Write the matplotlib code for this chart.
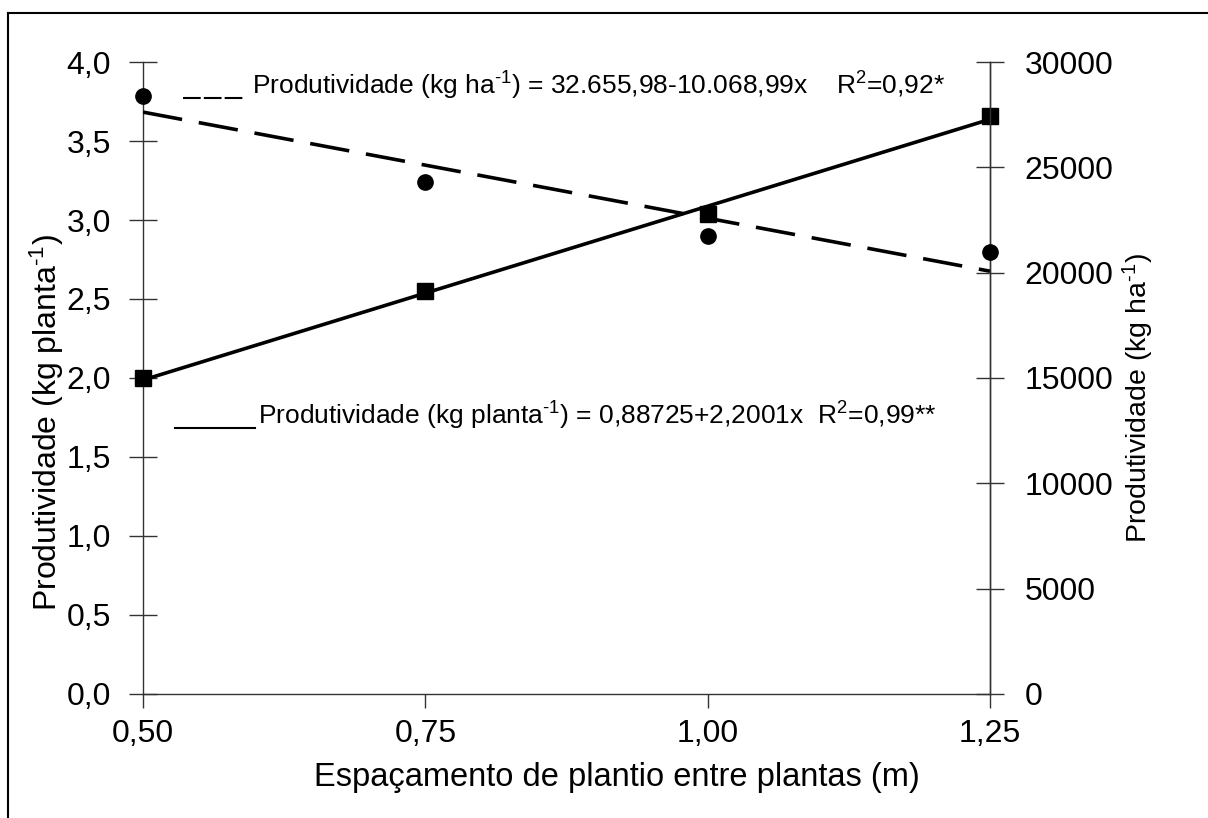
import matplotlib
matplotlib.use('Agg')
import matplotlib.pyplot as plt
import numpy as np
from matplotlib.lines import Line2D
from matplotlib.ticker import FuncFormatter

plt.rcParams['font.family'] = ['Liberation Sans', 'DejaVu Sans']
plt.rcParams['mathtext.fontset'] = 'custom'
plt.rcParams['mathtext.rm'] = 'Liberation Sans'
plt.rcParams['mathtext.it'] = 'Liberation Sans'

# data
espacamento = [0.50, 0.75, 1.00, 1.25]
prod_planta = [2.00, 2.55, 3.04, 3.66]        # kg planta-1 (left axis)
prod_ha = [28400, 24300, 21750, 21000]        # kg ha-1 (right axis)

# regression coefficients
planta_a, planta_b = 0.88725, 2.2001
ha_a, ha_b = 32655.98, -10068.99

fig = plt.figure(figsize=(12.08, 8.18), dpi=100)
ax = fig.add_axes([0.1184, 0.1516, 0.7011, 0.7726])
ax2 = ax.twinx()

x = np.array(espacamento)
# fitted lines
ax.plot(x, planta_a + planta_b * x, color='black', lw=2.6, zorder=3)
ax.plot(x, prod_planta, ls='none', marker='s', ms=11, color='black', zorder=4, clip_on=False)

ax2.plot(x, ha_a + ha_b * x, color='black', lw=2.6, ls=(0, (11, 4.7)), zorder=3)
ax2.plot(x, prod_ha, ls='none', marker='o', ms=11, color='black', zorder=4, clip_on=False)

ax.set_xlim(0.5, 1.25)
ax.set_ylim(0, 4.0)
ax2.set_ylim(0, 30000)
ax.set_xticks(espacamento)
ax.set_yticks(np.arange(0, 4.01, 0.5))
ax2.set_yticks(np.arange(0, 30001, 5000))

ax.xaxis.set_major_formatter(FuncFormatter(lambda v, p: f'{v:.2f}'.replace('.', ',')))
ax.yaxis.set_major_formatter(FuncFormatter(lambda v, p: f'{v:.1f}'.replace('.', ',')))

for a in (ax, ax2):
    a.spines['top'].set_visible(False)
    for s in a.spines.values():
        s.set_linewidth(1.0)
        s.set_color('#333333')
ax2.spines['left'].set_visible(False)
ax2.spines['bottom'].set_visible(False)

ax.tick_params(axis='y', direction='inout', length=20, width=1, labelsize=23, pad=13, color='#333333')
ax.tick_params(axis='x', direction='out', length=10, width=1, labelsize=23, pad=8, color='#333333')
ax2.tick_params(axis='y', direction='inout', length=20, width=1, labelsize=23, pad=15, color='#333333')

ax.set_xlabel('Espaçamento de plantio entre plantas (m)', fontsize=23.5)
ax.xaxis.set_label_coords(0.56, -0.107)
ax.set_ylabel('Produtividade (kg planta$^{\\text{-}1}$)', fontsize=23)
ax.yaxis.set_label_coords(-0.091, 0.43)
ax2.set_ylabel('Produtividade (kg ha$^{\\text{-}1}$)', fontsize=20.5)
ax2.yaxis.set_label_coords(1.155, 0.468)

# equation annotations
ax.add_line(Line2D([0.047, 0.120], [0.943, 0.943], transform=ax.transAxes,
                   color='black', lw=1.5, ls=(0, (8.5, 1.5))))
ax.text(0.1287, 0.948, 'Produtividade (kg ha$^{\\text{-}1}$) = 32.655,98-10.068,99x    R$^2$=0,92*',
        transform=ax.transAxes, fontsize=19, ha='left', va='baseline')
ax.add_line(Line2D([0.038, 0.132], [0.421, 0.421], transform=ax.transAxes,
                   color='black', lw=1.5))
ax.text(0.1358, 0.4256, 'Produtividade (kg planta$^{\\text{-}1}$) = 0,88725+2,2001x  R$^2$=0,99**',
        transform=ax.transAxes, fontsize=19, ha='left', va='baseline')

# figure border
fig.add_artist(Line2D([0.0066, 0.0066], [0.0, 0.984], transform=fig.transFigure, color='black', lw=1.5))
fig.add_artist(Line2D([0.0066, 1.0], [0.984, 0.984], transform=fig.transFigure, color='black', lw=1.5))

fig.savefig('out.png', dpi=100)
